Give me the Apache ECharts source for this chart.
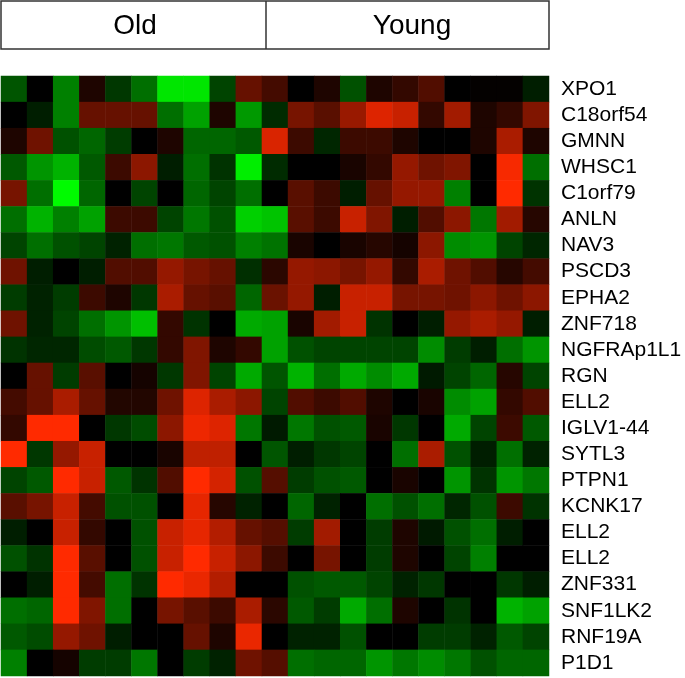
<!DOCTYPE html>
<html>
<head>
<meta charset="utf-8">
<script src="https://cdn.jsdelivr.net/npm/echarts@6/dist/echarts.min.js"></script>
<style>
html,body{margin:0;padding:0;background:#fff;}
#echart{width:685px;height:678px;}
</style>
</head>
<body>
<div id="echart"></div>
<script>
// genes, top to bottom
var genes = ['XPO1','C18orf54','GMNN','WHSC1','C1orf79','ANLN','NAV3','PSCD3','EPHA2','ZNF718',
	'NGFRAp1L1','RGN','ELL2','IGLV1-44','SYTL3','PTPN1','KCNK17','ELL2','ELL2','ZNF331',
	'SNF1LK2','RNF19A','P1D1'];
var groups = ['Old','Young'];

// log ratios, one row per gene, samples left to right
var oldValues = [
	[-1.0, 0, -1.5, 0.35, -0.65, -1.3, -2.7, -2.7, -0.8, 1.2],
	[0, -0.35, -1.5, 1.2, 1.2, 1.2, -1.3, -1.9, 0.35, -1.8],
	[0.35, 1.3, -0.95, -1.2, -0.7, 0, 0.35, -1.2, -1.2, -1.05],
	[-1.05, -1.75, -2.1, -1.05, 0.7, 1.65, -0.35, -1.3, -0.6, -2.8],
	[1.4, -1.3, -2.95, -1.2, 0, -0.8, 0, -1.2, -0.8, -1.3],
	[-1.3, -2.1, -1.5, -1.9, 0.7, 0.7, -0.8, -1.4, -0.95, -2.45],
	[-0.8, -1.3, -0.95, -0.8, -0.4, -1.3, -1.4, -1.05, -0.95, -1.5],
	[1.3, -0.35, 0, -0.35, 0.95, 0.95, 1.75, 1.4, 1.2, -0.55],
	[-0.7, -0.4, -0.7, 0.7, 0.35, -0.65, 2.0, 1.2, 1.05, -1.2],
	[1.3, -0.4, -0.8, -1.3, -1.75, -2.25, 0.6, -0.6, 0, -2.0],
	[-0.6, -0.45, -0.45, -0.9, -1.05, -0.65, 0.6, 1.5, 0.35, 0.6],
	[0, 1.2, -0.7, 1.05, 0, 0.25, -0.65, 1.5, -0.8, -2.0],
	[0.8, 1.2, 2.0, 1.2, 0.4, 0.4, 1.3, 2.6, 2.0, 1.65],
	[0.6, 3.0, 3.0, 0, -0.65, -0.9, 1.65, 2.8, 2.6, -1.4],
	[3.0, -0.65, 1.75, 2.35, 0, 0, 0.3, 2.25, 2.25, 0],
	[-0.8, -1.05, 3.0, 2.35, -1.05, -0.6, 0.95, 3.0, 2.5, -0.95],
	[1.05, 1.4, 2.35, 0.8, -0.95, -0.95, 0, 2.7, 0.45, -0.4],
	[-0.35, 0, 2.35, 0.6, 0, -0.95, 2.35, 2.7, 2.1, 1.2],
	[-0.95, -0.6, 3.0, 1.05, 0, -0.95, 2.35, 3.0, 2.35, 1.65],
	[0, -0.35, 3.0, 0.8, -1.3, -0.6, 3.0, 2.75, 2.1, 0],
	[-1.3, -1.2, 3.0, 1.5, -1.3, 0, 1.4, 1.05, 0.7, 2.0],
	[-1.05, -0.9, 1.75, 1.3, -0.35, 0, 0, 1.2, 0.35, 2.75],
	[-1.5, 0, 0.25, -0.7, -0.7, -1.4, 0, -0.7, -0.4, 1.3]
];
var youngValues = [
	[0.8, 0, 0.35, -0.95, 0.35, 0.6, 0.95, 0, 0.05, 0.05, -0.35],
	[-0.5, 1.4, 1.05, 1.8, 2.6, 2.35, 0.6, 1.9, 0.35, 0.6, 1.5],
	[2.55, 0.7, -0.45, 0.7, 0.7, 0.35, 0, 0, 0.35, 2.0, 0.35],
	[-0.5, 0, 0, 0.3, 0.6, 1.75, 1.3, 1.5, 0, 2.9, -1.3],
	[0, 1.05, 0.7, -0.35, 1.2, 1.75, 1.75, -1.5, 0, 3.0, -0.6],
	[-2.3, 1.05, 0.7, 2.35, 1.5, -0.35, 0.95, 1.65, -1.4, 1.9, 0.45],
	[-1.35, 0.3, 0, 0.3, 0.45, 0.25, 1.65, -1.65, -1.75, -0.8, -0.45],
	[0.5, 1.75, 1.65, 1.4, 1.75, 0.6, 2.0, 1.3, 0.95, 0.45, 0.8],
	[1.25, 1.75, -0.35, 2.35, 2.35, 1.4, 1.4, 1.3, 1.65, 1.3, 1.65],
	[-1.9, 0.3, 1.9, 2.35, -0.6, 0, -0.35, 1.75, 2.0, 1.75, -0.35],
	[-1.9, -0.95, -0.8, -0.8, -0.8, -0.8, -1.65, -0.7, -0.35, -1.3, -1.75],
	[-1.0, -2.1, -1.3, -2.0, -1.65, -2.0, -0.3, -0.8, -1.2, 0.45, -0.8],
	[-0.8, 0.95, 0.7, 0.95, 0.35, 0, 0.3, -1.65, -1.9, 0.6, 0.95],
	[-0.3, -1.4, -0.95, -1.05, 0.3, -0.65, 0, -2.0, -0.8, 0.7, -1.05],
	[-1.0, -0.35, -0.65, -0.8, 0, -1.3, 2.0, -0.95, -0.35, -1.3, -0.4],
	[1.0, -0.7, -0.95, -1.05, 0, 0.3, 0, -1.75, -0.6, -1.75, -1.4],
	[0, -1.2, -0.4, 0, -1.3, -0.95, -1.3, -0.45, -0.95, 0.7, -0.6],
	[1.0, -0.7, 1.9, 0, -0.7, 0.35, -0.3, -0.95, -1.3, -0.35, 0],
	[0.7, 0, 1.4, 0, -0.7, 0.35, 0, -0.8, -1.5, 0, 0],
	[0, -0.95, -1.05, -1.05, -0.8, -0.4, -0.65, 0, 0, -0.65, -0.35],
	[0.5, -1.05, -0.7, -2.0, -1.3, 0.35, 0, -0.6, 0, -2.1, -1.9],
	[0, -0.4, -0.4, -0.95, 0, 0, -0.7, -0.7, -0.4, -1.05, -0.8],
	[1.0, -1.3, -1.2, -1.2, -1.75, -1.4, -1.65, -1.4, -0.95, -1.2, -1.2]
];

function buildSamples(){
	var s = [];
	var i;
	for (i = 0; i < oldValues[0].length; i++) s.push('O' + (i + 1));
	for (i = 0; i < youngValues[0].length; i++) s.push('Y' + (i + 1));
	return s;
}

function buildCells(){
	var cells = [];
	for (var r = 0; r < genes.length; r++) {
		var row = oldValues[r].concat(youngValues[r]);
		for (var c = 0; c < row.length; c++) {
			cells.push([c, r, row[c]]);
		}
	}
	return cells;
}

function initReport(){
	var domain = document.getElementById("echart");
	var myChart = echarts.init(domain, null, {renderer: 'canvas'});
	var font = '"Liberation Sans", Arial, Helvetica, sans-serif';
	var option = {
		animation: false,
		backgroundColor: '#fff',
		grid: {left: 1, top: 76, width: 548, height: 600},
		xAxis: {
			type: 'category',
			data: buildSamples(),
			show: false
		},
		yAxis: {
			type: 'category',
			data: genes,
			inverse: true,
			position: 'right',
			axisLine: {show: false},
			axisTick: {show: false},
			splitLine: {show: false},
			axisLabel: {
				margin: 12,
				color: '#000',
				fontSize: 21,
				fontFamily: font,
				interval: 0
			}
		},
		visualMap: {
			show: false,
			min: -3,
			max: 3,
			calculable: false,
			inRange: {color: ['#00ff00', '#000000', '#ff2a00']}
		},
		// header box with group names
		graphic: [
			{type: 'rect', shape: {x: 1, y: 1, width: 548, height: 48},
				style: {fill: '#fff', stroke: '#333', lineWidth: 1.5}},
			{type: 'line', shape: {x1: 266, y1: 1, x2: 266, y2: 49},
				style: {stroke: '#333', lineWidth: 1.5}},
			{type: 'text', x: 135, y: 26,
				style: {text: groups[0], fill: '#000', font: '28px ' + font, align: 'center', verticalAlign: 'middle'}},
			{type: 'text', x: 412, y: 26,
				style: {text: groups[1], fill: '#000', font: '28px ' + font, align: 'center', verticalAlign: 'middle'}}
		],
		series: [{
			type: 'heatmap',
			data: buildCells(),
			itemStyle: {borderWidth: 0},
			emphasis: {disabled: true}
		}]
	};
	myChart.setOption(option);
}

initReport();
</script>
</body>
</html>
